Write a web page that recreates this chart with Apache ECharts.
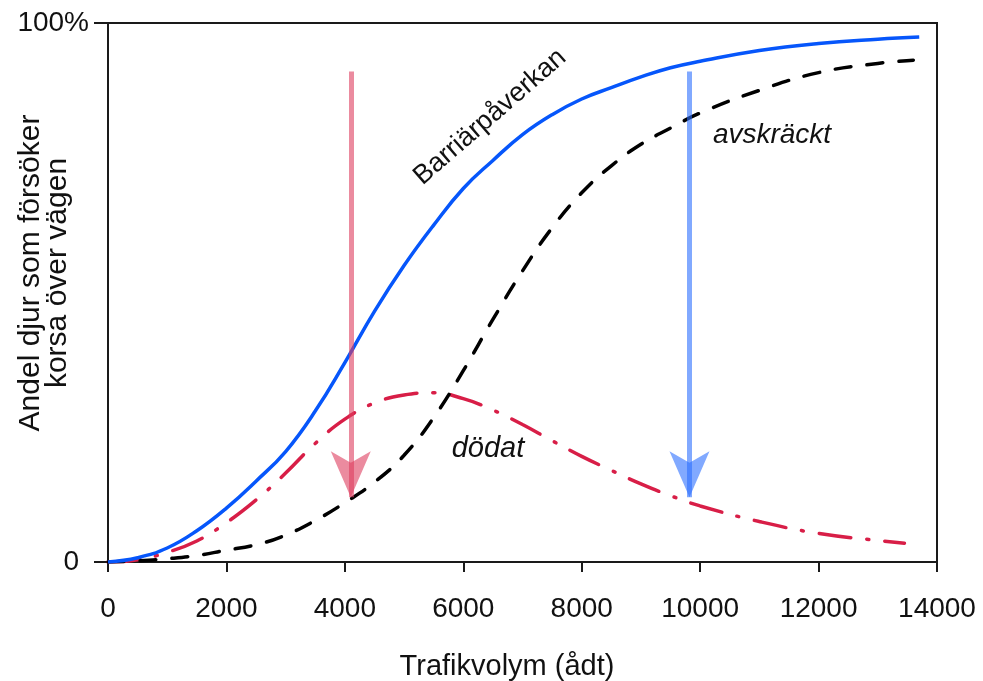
<!DOCTYPE html>
<html>
<head>
<meta charset="utf-8">
<script src="https://cdn.jsdelivr.net/npm/echarts@6/dist/echarts.min.js"></script>
<style>
html,body{margin:0;padding:0;background:#fff;}
#c{width:983px;height:681px;}
</style>
</head>
<body>
<div id="c"></div>
<script>
// ---- data ----
const xTicks = [0, 2000, 4000, 6000, 8000, 10000, 12000, 14000];
const yTickLabels = {0: '0', 100: '100%'};

const barrierX = [0, 500, 1000, 1500, 2000, 2500, 3000, 3500, 4000, 4500, 5000, 5500, 6000, 6500, 7000, 7500, 8000, 8500, 9000, 9500, 10000, 11000, 12000, 13000, 13700];
const barrierY = [0, 0.8, 2.6, 5.8, 10, 15, 20.5, 28, 37, 46.5, 55, 62.5, 69.3, 74.5, 79.3, 83, 85.9, 88, 90, 91.7, 92.9, 94.9, 96.2, 97.0, 97.4];

const deterredX = [0, 500, 1000, 1500, 2000, 2500, 3000, 3500, 4000, 4500, 5000, 5500, 6000, 6500, 7000, 7500, 8000, 8500, 9000, 9500, 10000, 11000, 12000, 13000, 13600];
const deterredY = [0, 0.2, 0.6, 1.2, 2.2, 3.2, 5.0, 7.7, 11, 14.8, 19.8, 26.8, 35.5, 45, 54, 62, 68.5, 73.5, 77.5, 80.5, 83.3, 87.5, 90.8, 92.5, 93.1];

const killedX = [0, 500, 1000, 1500, 2000, 2500, 3000, 3500, 4000, 4500, 5000, 5500, 6000, 6500, 7000, 7500, 8000, 8500, 9000, 9500, 10000, 11000, 12000, 13000, 13450];
const killedY = [0, 0.4, 1.8, 3.9, 7.3, 11.5, 16.5, 22, 26.5, 29.5, 31, 31.4, 30.3, 28.2, 25.5, 22.5, 19.6, 17, 14.5, 12.3, 10.4, 7.5, 5.3, 4, 3.5];

const arrowX = [4100, 9820];
const arrowTop = 91;
const arrowBottom = 12;

const labels = {
  barrier: 'Barriärpåverkan',
  deterred: 'avskräckt',
  killed: 'dödat',
  yName: 'Andel djur som försöker\nkorsa över vägen',
  xName: 'Trafikvolym (ådt)'
};

// ---- chart ----
const FONT = '"Liberation Sans", Arial, Helvetica, sans-serif';
const zip = (xs, ys) => xs.map((x, i) => [x, ys[i]]);
const chart = echarts.init(document.getElementById('c'), null, {renderer: 'canvas'});

const arrowColors = ['rgba(222,62,95,0.6)', 'rgba(45,112,255,0.6)'];

chart.setOption({
  animation: false,
  backgroundColor: '#fff',
  grid: {left: 108, right: 46, top: 23, bottom: 119, show: true, borderColor: '#1a1a1a', borderWidth: 2, containLabel: false},
  xAxis: {
    type: 'value', min: 0, max: 14000, interval: 2000,
    axisLine: {show: true, onZero: false, lineStyle: {color: '#1a1a1a', width: 2}},
    axisTick: {show: true, inside: false, length: 10, lineStyle: {color: '#1a1a1a', width: 2}},
    axisLabel: {color: '#111', fontSize: 28, fontFamily: FONT, margin: 33, formatter: v => xTicks.indexOf(v) >= 0 ? String(v) : ''},
    splitLine: {show: false}
  },
  yAxis: {
    type: 'value', min: 0, max: 100, interval: 100,
    axisLine: {show: true, onZero: false, lineStyle: {color: '#1a1a1a', width: 2}},
    axisTick: {show: true, inside: false, length: 14, lineStyle: {color: '#1a1a1a', width: 2}},
    axisLabel: {
      color: '#111', fontSize: 28, fontFamily: FONT, margin: 19,
      formatter: v => v === 0 ? '{z|' + yTickLabels[v] + '}' : (yTickLabels[v] !== undefined ? yTickLabels[v] : ''),
      rich: {z: {fontSize: 28, fontFamily: FONT, color: '#111', padding: [0, 10, 0, 0]}}
    },
    splitLine: {show: false}
  },
  series: [
    {
      name: 'killed', type: 'line', data: zip(killedX, killedY), smooth: 0.45, showSymbol: false,
      lineStyle: {color: '#d81e47', width: 3.5, type: [32, 16, 2, 16], cap: 'round'}, z: 3
    },
    {
      name: 'deterred', type: 'line', data: zip(deterredX, deterredY), smooth: 0.45, showSymbol: false,
      lineStyle: {color: '#000', width: 3.5, type: [16, 16], cap: 'round'}, z: 3
    },
    {
      name: 'barrier', type: 'line', data: zip(barrierX, barrierY), smooth: 0.45, showSymbol: false,
      lineStyle: {color: '#0656fb', width: 3.5}, z: 3
    },
    {
      name: 'arrows', type: 'line', data: [], z: 5,
      markLine: {
        silent: true, animation: false,
        symbol: ['none', 'arrow'], symbolSize: [30, 46],
        label: {show: false},
        data: arrowX.map((x, i) => [
          {coord: [x, arrowTop], lineStyle: {color: arrowColors[i], width: 5, type: 'solid'}, itemStyle: {color: arrowColors[i]}},
          {coord: [x, arrowBottom]}
        ])
      }
    }
  ],
  graphic: [
    {type: 'text', x: 44, y: 273, rotation: Math.PI / 2, style: {text: labels.yName, font: '30px ' + FONT, fill: '#111', align: 'center', verticalAlign: 'middle', lineHeight: 27}},
    {type: 'text', x: 507, y: 667, style: {text: labels.xName, font: '29px ' + FONT, fill: '#111', align: 'center', verticalAlign: 'middle'}},
    {type: 'text', x: 490, y: 117, rotation: Math.PI * 41 / 180, style: {text: labels.barrier, font: '27px ' + FONT, fill: '#111', align: 'center', verticalAlign: 'middle'}},
    {type: 'text', x: 772, y: 135, style: {text: labels.deterred, font: 'italic 28px ' + FONT, fill: '#111', align: 'center', verticalAlign: 'middle'}},
    {type: 'text', x: 488, y: 449, style: {text: labels.killed, font: 'italic 29px ' + FONT, fill: '#111', align: 'center', verticalAlign: 'middle'}}
  ]
});
</script>
</body>
</html>
